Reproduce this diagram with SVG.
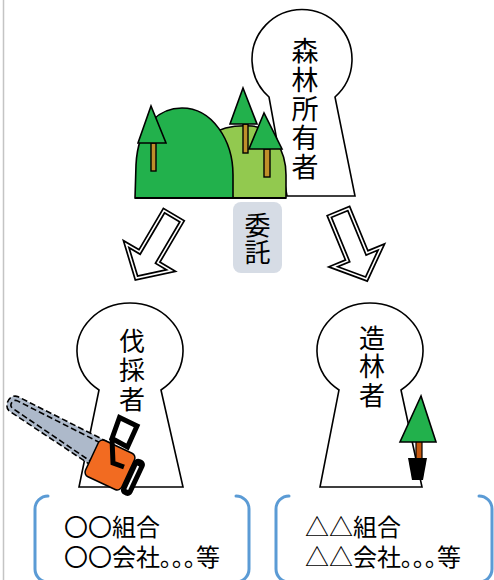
<svg xmlns="http://www.w3.org/2000/svg" xmlns:xlink="http://www.w3.org/1999/xlink" width="494" height="580" viewBox="0 0 494 580">
  <style>
    .jp { font-family: "Noto Sans CJK JP", "Noto Sans", sans-serif; fill: #000; }
    .note { font-family: Lato, "Noto Sans CJK JP", sans-serif; font-size: 24px; fill: #000; }
    .vert { writing-mode: vertical-rl; text-orientation: upright; }
    .key { fill: #fff; stroke: #000; stroke-width: 1.6; stroke-linejoin: miter; }
    .tree { fill: #22b14c; stroke: #000; stroke-width: 1.6; stroke-linejoin: miter; }
    .trunk { fill: #bf8f2a; stroke: #000; stroke-width: 1.4; }
    .arr-out { fill: #fff; stroke: #000; stroke-width: 5; stroke-linejoin: miter; }
    .arr-in { fill: none; stroke: #fff; stroke-width: 1.6; stroke-linejoin: miter; }
    .bracket { fill: none; stroke: #5b9bd5; stroke-width: 3; stroke-linecap: round; }
    .chain { stroke: #000; stroke-width: 1.6; stroke-dasharray: 6 3; }
  </style>
  <defs>
    <path id="arrow" d="M0,-10.5 H48 V-26 L72,0 L48,26 V10.5 H0 Z"/>
  </defs>

  <!-- page edge -->
  <line x1="3.5" y1="0" x2="3.5" y2="580" stroke="#c4c4c4" stroke-width="1.5"/>

  <!-- forest owner -->
  <g id="owner">
    <path class="key" d="M269,97 A50,50 0 1 1 335,97 L355,196 L287,196 Z"/>
    <text class="jp vert" font-size="27" letter-spacing="2" x="305" y="37.5">森林所有者</text>
  </g>

  <!-- hills with trees -->
  <g id="forest">
    <path d="M210,135 C222,127 238,125 252,126 C272,128 286,150 286,175 L286,198 L233,198 Z" fill="#92c94f" stroke="#000" stroke-width="1.6"/>
    <path d="M135,198 L136,165 C138,122 162,108 182,108 C212,108 233,140 233,175 L233,198 Z" fill="#22b14c" stroke="#000" stroke-width="1.6"/>
    <line x1="135" y1="198" x2="286" y2="198" stroke="#000" stroke-width="2"/>
    <rect class="trunk" x="151" y="143" width="5" height="28"/>
    <polygon class="tree" points="151,106 138,143 166,143"/>
    <rect class="trunk" x="243" y="124" width="5" height="29"/>
    <polygon class="tree" points="243,88 230,124 257,124"/>
    <rect class="trunk" x="264" y="149" width="6" height="28"/>
    <polygon class="tree" points="264,113 249,149 282,149"/>
  </g>

  <!-- commission label -->
  <g id="commission">
    <rect x="233" y="202" width="49" height="71" rx="8" fill="#d6dce5"/>
    <text class="jp vert" font-size="26" letter-spacing="1" x="257.5" y="212">委託</text>
  </g>

  <!-- connectors -->
  <g id="connectors">
    <g transform="translate(173,216) rotate(120.5)">
      <use xlink:href="#arrow" class="arr-out"/>
      <use xlink:href="#arrow" class="arr-in"/>
    </g>
    <g transform="translate(339,212.5) rotate(67.6)">
      <use xlink:href="#arrow" class="arr-out"/>
      <use xlink:href="#arrow" class="arr-in"/>
    </g>
  </g>

  <!-- logger -->
  <g id="logger">
    <path class="key" d="M99,390 A53,48 0 1 1 161,390 L183,487 L79,487 Z"/>
    <text class="jp vert" font-size="26" letter-spacing="3" x="132" y="328">伐採者</text>
    <!-- chainsaw -->
    <g transform="translate(110,465) rotate(25)">
      <path class="chain" d="M-12,-20 L-112,-23 C-122,-23 -122,-6 -112,-6 L-12,9 Z" fill="#adb9ca"/>
      <path class="chain" d="M-18,-16 L-111,-19 C-117,-19 -117,-10 -111,-10 L-18,5" fill="none"/>
      <rect x="-20" y="-20" width="40" height="40" rx="5" fill="#f26b21" stroke="#000" stroke-width="1.5"/>
    </g>
    <polygon points="119.5,417.5 137,426 127.5,447 112,438.5" fill="#fff" stroke="#000" stroke-width="5" stroke-linejoin="miter"/>
    <polyline points="112,438.5 113,463 124,467" fill="none" stroke="#000" stroke-width="5"/>
    <g transform="translate(110,465) rotate(25)">
      <rect x="20" y="-18" width="12" height="39" rx="5" fill="#000"/>
      <line x1="26" y1="-11" x2="26" y2="15" stroke="#fff" stroke-width="2"/>
    </g>
  </g>

  <!-- planter -->
  <g id="planter">
    <path class="key" d="M339,390 A53,48 0 1 1 401,390 L422,487 L320,487 Z"/>
    <text class="jp vert" font-size="26" letter-spacing="2.5" x="372" y="325">造林者</text>
    <!-- seedling -->
    <rect x="416" y="441" width="6" height="18" fill="#c55a11" stroke="#000" stroke-width="1.2"/>
    <polygon class="tree" points="421,396 400,442 436,442"/>
    <polygon points="408,458 427,458 423,480 412,480" fill="#000"/>
  </g>

  <!-- examples under logger -->
  <g id="logger-examples">
    <path class="bracket" d="M48,496 A13,13 0 0 0 35,509 V569 A13,13 0 0 0 48,582"/>
    <path class="bracket" d="M236,496 A13,13 0 0 1 249,509 V569 A13,13 0 0 1 236,582"/>
    <text class="note">
      <tspan x="64" y="536">〇〇組合</tspan>
      <tspan x="64" y="566">〇〇会社｡｡｡等</tspan>
    </text>
  </g>

  <!-- examples under planter -->
  <g id="planter-examples">
    <path class="bracket" d="M289,496 A13,13 0 0 0 276,509 V569 A13,13 0 0 0 289,582"/>
    <path class="bracket" d="M479,496 A13,13 0 0 1 492,509 V569 A13,13 0 0 1 479,582"/>
    <text class="note">
      <tspan x="305" y="536">△△組合</tspan>
      <tspan x="305" y="566">△△会社｡｡｡等</tspan>
    </text>
  </g>
</svg>
